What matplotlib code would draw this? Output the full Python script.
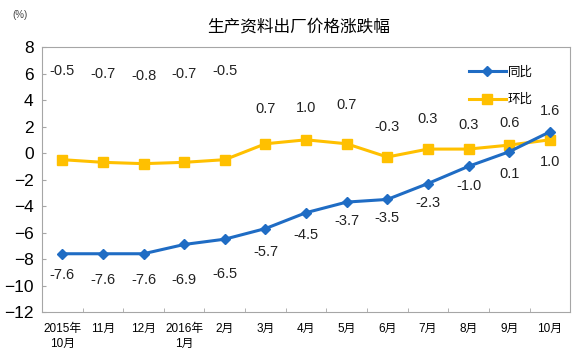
import matplotlib.pyplot as plt
import numpy as np

plt.rcParams['font.family'] = ['Liberation Sans', 'Noto Sans CJK SC', 'DejaVu Sans']

months = ['2015年\n10月', '11月', '12月', '2016年\n1月', '2月', '3月', '4月',
          '5月', '6月', '7月', '8月', '9月', '10月']
yoy = [-7.6, -7.6, -7.6, -6.9, -6.5, -5.7, -4.5, -3.7, -3.5, -2.3, -1.0, 0.1, 1.6]
mom = [-0.5, -0.7, -0.8, -0.7, -0.5, 0.7, 1.0, 0.7, -0.3, 0.3, 0.3, 0.6, 1.0]

# where each data label sits (data units)
yoy_lab_y = [-9.2, -9.6, -9.6, -9.6, -9.1, -7.5, -6.2, -5.1, -4.9, -3.8, -2.5, -1.6, 3.2]
mom_lab_y = [6.2, 6.0, 5.8, 6.0, 6.2, 3.3, 3.4, 3.6, 2.0, 2.6, 2.1, 2.3, -0.7]

blue = '#1F6CC4'
yellow = '#FFC000'
grey = '#A6A6A6'

fig = plt.figure(figsize=(5.8, 3.62), dpi=100)
ax = fig.add_axes([0.0724, 0.138, 0.9106, 0.732])

x = np.arange(len(months))
ax.plot(x, yoy, color=blue, marker='D', markersize=5, lw=2.2, label='同比', zorder=3)
ax.plot(x, mom, color=yellow, marker='s', markersize=7, lw=2.2, label='环比', zorder=2)

for i in range(len(x)):
    ax.text(x[i], yoy_lab_y[i], f'{yoy[i]:.1f}', ha='center', va='center', fontsize=10.5, color='#222222')
    ax.text(x[i], mom_lab_y[i], f'{mom[i]:.1f}', ha='center', va='center', fontsize=10.5, color='#222222')

ax.set_xlim(-0.5, len(months) - 0.5)
ax.set_ylim(-12, 8)
ax.set_yticks(range(-12, 9, 2))
ax.tick_params(axis='y', direction='in', length=3, color=grey, labelsize=12.5, pad=6)
ax.set_xticks(x)
ax.set_xticklabels(months, fontsize=8.5, linespacing=1.3)
ax.set_xticks(np.arange(0.5, len(months) - 0.5, 1), minor=True)
ax.tick_params(axis='x', which='major', length=0, pad=8)
ax.tick_params(axis='x', which='minor', direction='in', length=3, color=grey)
for s in ax.spines.values():
    s.set_color(grey)
    s.set_linewidth(0.8)

leg = ax.legend(loc='upper right', bbox_to_anchor=(0.95, 0.97), frameon=False, fontsize=9,
                handlelength=3, labelspacing=1.2, handletextpad=0.1)

fig.text(0.515, 0.925, '生产资料出厂价格涨跌幅', ha='center', va='center', fontsize=12,
         family=['Noto Sans CJK SC', 'DejaVu Sans'])
fig.text(0.035, 0.958, '(%)', ha='center', va='center', fontsize=7, color='#444444')

fig.savefig('out.png', dpi=100)
